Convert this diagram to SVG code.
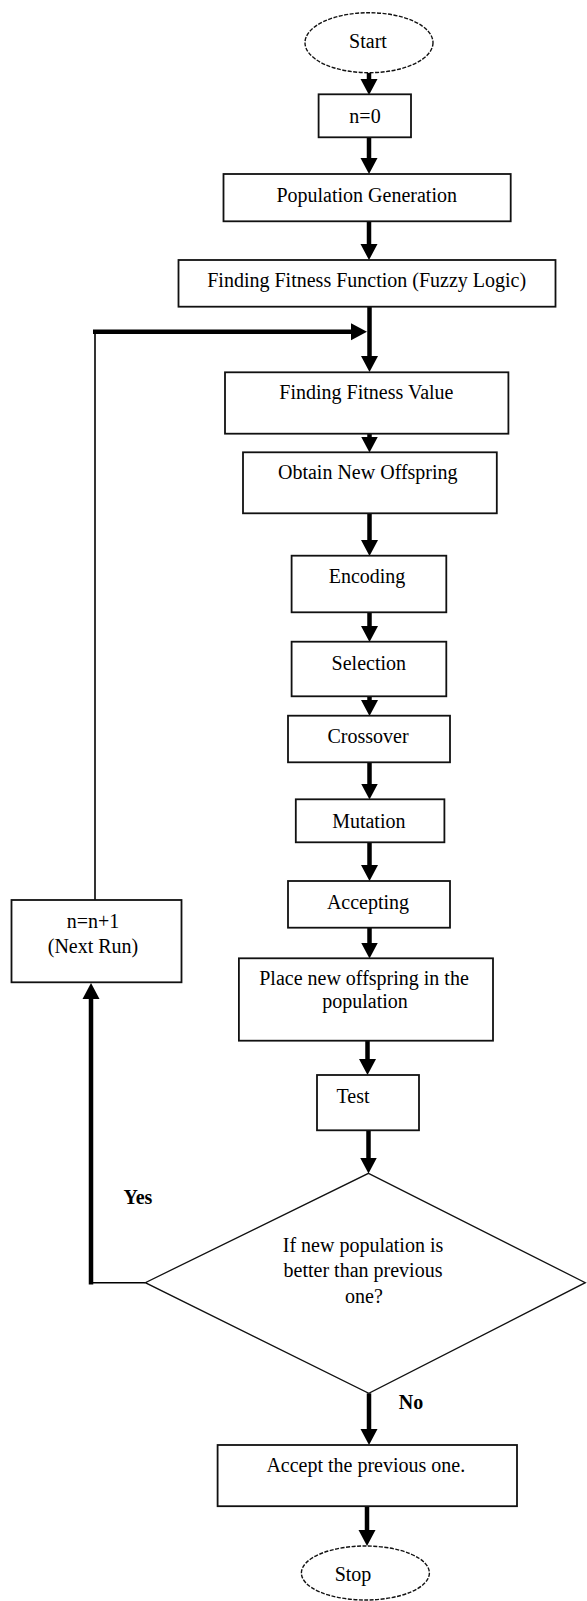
<svg xmlns="http://www.w3.org/2000/svg" width="587" height="1601" viewBox="0 0 587 1601">
<style>
.box{fill:#fff;stroke:#111;stroke-width:1.8}
.term{fill:#fff;stroke:#111;stroke-width:1.4;stroke-dasharray:4 1.5}
.dec{fill:#fff;stroke:#111;stroke-width:1.3}
.t{font-family:"Liberation Serif","Times New Roman",serif;font-size:20px;fill:#000;text-anchor:middle}
.b{font-weight:bold;text-anchor:start}
.thick{stroke:#000;stroke-width:4.5;fill:none}
.thin{stroke:#000;stroke-width:1.6;fill:none}
</style>
<defs>
<marker id="ah" markerUnits="userSpaceOnUse" viewBox="0 0 16 18" refX="8" refY="9" markerWidth="16" markerHeight="18" orient="auto">
<path d="M0,0.5 L16,9 L0,17.5 z" fill="#000"/>
</marker>
</defs>
<rect width="587" height="1601" fill="#fff"/>

<g id="connectors">
<line class="thick" x1="369" y1="73" x2="369" y2="87" marker-end="url(#ah)"/>
<line class="thick" x1="369" y1="137" x2="369" y2="166" marker-end="url(#ah)"/>
<line class="thick" x1="369" y1="221" x2="369" y2="252" marker-end="url(#ah)"/>
<line class="thick" x1="369.5" y1="307" x2="369.5" y2="364" marker-end="url(#ah)"/>
<polyline class="thin" points="95,900 95,331.7"/>
<line class="thick" x1="93" y1="331.7" x2="359" y2="331.7" marker-end="url(#ah)"/>
<line class="thick" x1="369.5" y1="433.7" x2="369.5" y2="444.5" marker-end="url(#ah)"/>
<line class="thick" x1="369.5" y1="513.3" x2="369.5" y2="548" marker-end="url(#ah)"/>
<line class="thick" x1="369.5" y1="612.3" x2="369.5" y2="634" marker-end="url(#ah)"/>
<line class="thick" x1="369.5" y1="696.3" x2="369.5" y2="708" marker-end="url(#ah)"/>
<line class="thick" x1="369.5" y1="762.3" x2="369.5" y2="791.5" marker-end="url(#ah)"/>
<line class="thick" x1="369.5" y1="842.3" x2="369.5" y2="873" marker-end="url(#ah)"/>
<line class="thick" x1="369.5" y1="927.7" x2="369.5" y2="950.5" marker-end="url(#ah)"/>
<line class="thick" x1="367.5" y1="1040.7" x2="367.5" y2="1067" marker-end="url(#ah)"/>
<line class="thick" x1="368.5" y1="1130.3" x2="368.5" y2="1165.5" marker-end="url(#ah)"/>
<line class="thin" x1="145.3" y1="1282.7" x2="91" y2="1282.7"/>
<line class="thick" x1="91" y1="1284.5" x2="91" y2="991" marker-end="url(#ah)"/>
<line class="thick" x1="369" y1="1393.3" x2="369" y2="1437" marker-end="url(#ah)"/>
<line class="thick" x1="367" y1="1506.7" x2="367" y2="1538" marker-end="url(#ah)"/>
</g>

<g id="start">
<ellipse class="term" cx="369" cy="42.7" rx="64" ry="30"/>
<text class="t" x="368" y="48">Start</text>
</g>
<g id="n0">
<rect class="box" x="318.6" y="94.3" width="92.4" height="43"/>
<text class="t" x="365" y="122.7">n=0</text>
</g>
<g id="popgen">
<rect class="box" x="223.5" y="174" width="287.2" height="47.3"/>
<text class="t" x="366.7" y="201.7">Population Generation</text>
</g>
<g id="fitfunc">
<rect class="box" x="178.5" y="260" width="377" height="46.7"/>
<text class="t" x="366.7" y="287.3">Finding Fitness Function (Fuzzy Logic)</text>
</g>
<g id="fitval">
<rect class="box" x="225" y="372.3" width="283.4" height="61.4"/>
<text class="t" x="366.4" y="399.3">Finding Fitness Value</text>
</g>
<g id="offspring">
<rect class="box" x="243" y="452.3" width="253.8" height="61"/>
<text class="t" x="367.8" y="479">Obtain New Offspring</text>
</g>
<g id="encoding">
<rect class="box" x="291.6" y="555.7" width="154.7" height="56.6"/>
<text class="t" x="367" y="582.7">Encoding</text>
</g>
<g id="selection">
<rect class="box" x="291.6" y="641.7" width="154.7" height="54.6"/>
<text class="t" x="368.8" y="670">Selection</text>
</g>
<g id="crossover">
<rect class="box" x="288" y="715.7" width="162" height="46.6"/>
<text class="t" x="368" y="743.3">Crossover</text>
</g>
<g id="mutation">
<rect class="box" x="295.8" y="799.3" width="148.6" height="43"/>
<text class="t" x="368.8" y="827.7">Mutation</text>
</g>
<g id="accepting">
<rect class="box" x="288" y="881" width="162" height="46.7"/>
<text class="t" x="368" y="909.3">Accepting</text>
</g>
<g id="nextrun">
<rect class="box" x="11.5" y="900" width="170" height="82.3"/>
<text class="t" x="93" y="928.3">n=n+1</text>
<text class="t" x="93" y="953.3">(Next Run)</text>
</g>
<g id="place">
<rect class="box" x="238.9" y="958.3" width="254.1" height="82.4"/>
<text class="t" x="364" y="985">Place new offspring in the</text>
<text class="t" x="365" y="1008.3">population</text>
</g>
<g id="test">
<rect class="box" x="317" y="1075" width="102" height="55.3"/>
<text class="t" x="353" y="1103.3">Test</text>
</g>
<g id="decision">
<polygon class="dec" points="368.5,1173.3 585.3,1282.7 368.8,1393.3 145.3,1282.7"/>
<text class="t" x="363" y="1251.7">If new population is</text>
<text class="t" x="363" y="1276.7">better than previous</text>
<text class="t" x="364" y="1303.3">one?</text>
</g>
<text class="t b" x="123.5" y="1204">Yes</text>
<text class="t b" x="398.7" y="1409">No</text>
<g id="accept">
<rect class="box" x="217.6" y="1445" width="299.4" height="61.2"/>
<text class="t" x="365.8" y="1472">Accept the previous one.</text>
</g>
<g id="stop">
<ellipse class="term" cx="365.4" cy="1573" rx="64" ry="27"/>
<text class="t" x="353" y="1580.7">Stop</text>
</g>
</svg>
